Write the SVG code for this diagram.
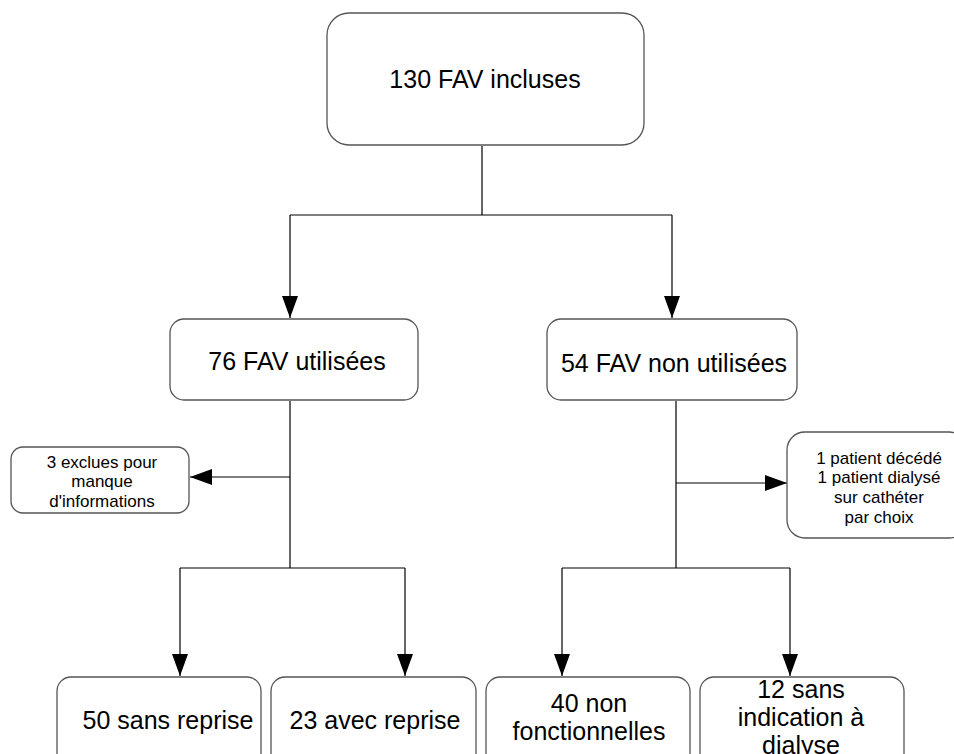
<svg xmlns="http://www.w3.org/2000/svg" width="954" height="754" viewBox="0 0 954 754">
<defs>
<marker id="ah" markerWidth="22" markerHeight="16" refX="22" refY="8" viewBox="0 0 22 16" markerUnits="userSpaceOnUse" orient="auto">
<path d="M0,0 L22,8 L0,16 Z" fill="#000"/>
</marker>
<style>
.box{fill:#fff;stroke:#555;stroke-width:1.3}
.t{font-family:"Liberation Sans",Arial,sans-serif;fill:#000;text-anchor:middle}
.big{font-size:25px}
.sm{font-size:17px}
.c{fill:none;stroke:#000;stroke-width:1.2}
</style>
</defs>
<rect width="954" height="754" fill="#fff"/>
<g id="connectors">
<path class="c" d="M482,146 V215 M290,215 H672"/>
<path class="c" d="M290,215 V318" marker-end="url(#ah)"/>
<path class="c" d="M672,215 V318" marker-end="url(#ah)"/>
<path class="c" d="M290,401 V568 M180,568 H405"/>
<path class="c" d="M290,477 H190" marker-end="url(#ah)"/>
<path class="c" d="M180,568 V676" marker-end="url(#ah)"/>
<path class="c" d="M405,568 V676" marker-end="url(#ah)"/>
<path class="c" d="M676,401 V568 M562,568 H790"/>
<path class="c" d="M676,483 H787" marker-end="url(#ah)"/>
<path class="c" d="M562,568 V676" marker-end="url(#ah)"/>
<path class="c" d="M790,568 V676" marker-end="url(#ah)"/>
</g>
<g id="n130">
<rect class="box" x="327" y="13" width="317" height="132" rx="22"/>
<text class="t big" x="485" y="88">130 FAV incluses</text>
</g>
<g id="n76">
<rect class="box" x="170" y="319" width="248" height="81" rx="14"/>
<text class="t big" x="297" y="370">76 FAV utilisées</text>
</g>
<g id="n54">
<rect class="box" x="547" y="319" width="250" height="81" rx="14"/>
<text class="t big" x="674" y="372">54 FAV non utilisées</text>
</g>
<g id="nexcl">
<rect class="box" x="11" y="447" width="178" height="66" rx="12"/>
<text class="t sm" x="102" y="468">3 exclues pour</text>
<text class="t sm" x="102" y="487">manque</text>
<text class="t sm" x="102" y="507">d'informations</text>
</g>
<g id="npat">
<rect class="box" x="787" y="432" width="180" height="106" rx="18"/>
<text class="t sm" x="879" y="464">1 patient décédé</text>
<text class="t sm" x="879" y="483">1 patient dialysé</text>
<text class="t sm" x="879" y="503">sur cathéter</text>
<text class="t sm" x="879" y="523">par choix</text>
</g>
<g id="n50">
<rect class="box" x="57" y="677" width="204" height="100" rx="14"/>
<text class="t big" x="168" y="729">50 sans reprise</text>
</g>
<g id="n23">
<rect class="box" x="271" y="677" width="205" height="100" rx="14"/>
<text class="t big" x="375" y="729">23 avec reprise</text>
</g>
<g id="n40">
<rect class="box" x="486" y="677" width="204" height="100" rx="14"/>
<text class="t big" x="589" y="712">40 non</text>
<text class="t big" x="589" y="740">fonctionnelles</text>
</g>
<g id="n12">
<rect class="box" x="700" y="677" width="204" height="100" rx="14"/>
<text class="t big" x="801" y="698">12 sans</text>
<text class="t big" x="801" y="726">indication à</text>
<text class="t big" x="801" y="754">dialyse</text>
</g>
</svg>
